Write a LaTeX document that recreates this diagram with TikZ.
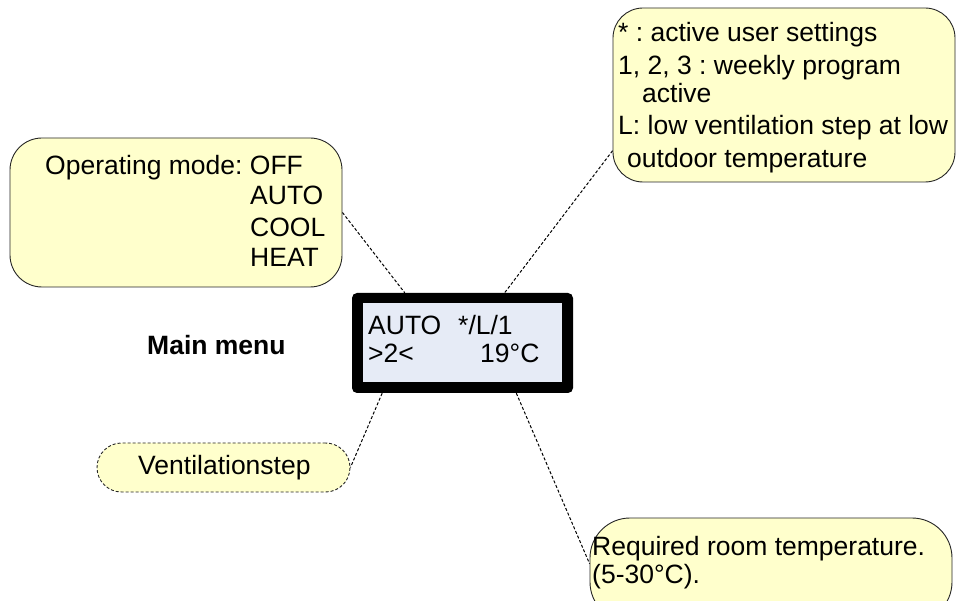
\documentclass[tikz,border=0pt]{standalone}
\usepackage{fontspec}
\setmainfont{Liberation Sans}
\usepackage{tikz}
\usetikzlibrary{calc}
\definecolor{notefill}{RGB}{255,255,204}
\definecolor{screenfill}{RGB}{230,235,246}
\frenchspacing
\begin{document}
\begin{tikzpicture}[x=1pt,y=-1pt,
  every node/.style={font=\fontsize{26.5}{31}\selectfont},
  txt/.style={anchor=base west,inner sep=0pt},
  note/.style={draw=black!85,fill=notefill,line width=0.9pt,inner sep=0pt},
  lead/.style={draw,line width=1pt,dash pattern=on 3pt off 2pt}]
  \useasboundingbox (0,0) rectangle (956,601);
  \node[note,rounded corners=32pt,minimum width=332pt,minimum height=149pt](mode)at(176,212.5){};
  \node[note,rounded corners=30pt,minimum width=342pt,minimum height=174pt](notes)at(784,95){};
  \node[note,rounded corners=24.5pt,dash pattern=on 3pt off 2pt,minimum width=253pt,minimum height=49pt](vent)at(223.5,467.5){};
  \node[note,rounded corners=40pt,minimum width=362pt,minimum height=104pt](temp)at(771,570){};
  \node[fill=black,rounded corners=5pt,inner sep=0pt,minimum width=221pt,minimum height=100pt](display)at(462.5,343){};
  \node[fill=screenfill,inner sep=0pt,minimum width=199pt,minimum height=79pt](screen)at(462.5,342.5){};
  \node[txt](mode-title)at(45,175){Operating mode: OFF};
  \foreach \m/\y in {AUTO/205, COOL/237, HEAT/267} \node[txt](mode-\m)at(250,\y){\m};
  \node[txt](notes-a)at(618,42){* : active user settings};
  \node[txt](notes-b)at(618,75){1, 2, 3 : weekly program};
  \node[txt](notes-c)at(642,103){active};
  \node[txt](notes-d)at(618,135){L: low ventilation step at low};
  \node[txt](notes-e)at(627,168){outdoor temperature};
  \node[txt](screen-mode)at(368,335){AUTO};
  \node[txt](screen-flags)at(458,335){*/L/1};
  \node[txt](screen-step)at(368,363){>2<};
  \node[txt](screen-temp)at(480,363){19°C};
  \node[txt](vent-label)at(138,475){Ventilationstep};
  \node[txt](temp-a)at(592,555){Required room temperature.};
  \node[txt](temp-b)at(592,583){(5-30°C).};
  \node[txt,font=\fontsize{26.5}{31}\selectfont\bfseries](menu)at(147,355){Main menu};
  \draw[lead](mode.east)--(display.139);
  \draw[lead](notes.198)--(display.50);
  \draw[lead](display.212)--(vent.east);
  \draw[lead](display.-43)--(temp.178);
\end{tikzpicture}
\end{document}
